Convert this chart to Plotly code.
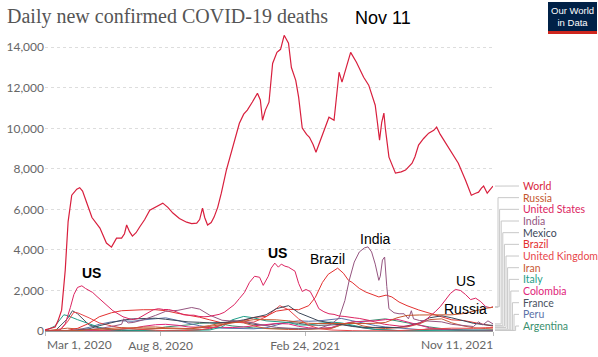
import plotly.graph_objects as go

# ---------------- data ----------------
TITLE = "Daily new confirmed COVID-19 deaths"
DATE_LABEL = "Nov 11"

x_tick_dates = ["2020-03-01", "2020-08-08", "2021-02-24", "2021-11-11"]
x_tick_labels = ["Mar 1, 2020", "Aug 8, 2020", "Feb 24, 2021", "Nov 11, 2021"]
y_tick_vals = [0, 2000, 4000, 6000, 8000, 10000, 12000, 14000]
y_tick_labels = ["0", "2,000", "4,000", "6,000", "8,000", "10,000", "12,000", "14,000"]

semi_dates = ["2020-03-01", "2020-03-15", "2020-04-01", "2020-04-15", "2020-05-01", "2020-05-15",
              "2020-06-01", "2020-06-15", "2020-07-01", "2020-07-15", "2020-08-01", "2020-08-15",
              "2020-09-01", "2020-09-15", "2020-10-01", "2020-10-15", "2020-11-01", "2020-11-15",
              "2020-12-01", "2020-12-15", "2021-01-01", "2021-01-15", "2021-02-01", "2021-02-15",
              "2021-03-01", "2021-03-15", "2021-04-01", "2021-04-15", "2021-05-01", "2021-05-15",
              "2021-06-01", "2021-06-15", "2021-07-01", "2021-07-15", "2021-08-01", "2021-08-15",
              "2021-09-01", "2021-09-15", "2021-10-01", "2021-10-15", "2021-11-01", "2021-11-11"]

world_dates = ["2020-03-01", "2020-03-15", "2020-03-19", "2020-03-24", "2020-03-29", "2020-04-02",
               "2020-04-07", "2020-04-14", "2020-04-18", "2020-04-22", "2020-04-28", "2020-05-05",
               "2020-05-16", "2020-05-25", "2020-06-01", "2020-06-04", "2020-06-08", "2020-06-15",
               "2020-06-19", "2020-06-22", "2020-06-26", "2020-06-30", "2020-07-05", "2020-07-10",
               "2020-07-17", "2020-07-24", "2020-07-31", "2020-08-06", "2020-08-11", "2020-08-18",
               "2020-08-25", "2020-09-03", "2020-09-13", "2020-09-20", "2020-09-27", "2020-10-01",
               "2020-10-05", "2020-10-08", "2020-10-12", "2020-10-17", "2020-10-21", "2020-10-26",
               "2020-10-31", "2020-11-07", "2020-11-15", "2020-11-20", "2020-11-25", "2020-12-01",
               "2020-12-06", "2020-12-13", "2020-12-20", "2020-12-24", "2020-12-27", "2020-12-31",
               "2021-01-05", "2021-01-10", "2021-01-16", "2021-01-21", "2021-01-26", "2021-02-01",
               "2021-02-05", "2021-02-11", "2021-02-15", "2021-02-20", "2021-02-26", "2021-03-02",
               "2021-03-07", "2021-03-11", "2021-03-20", "2021-03-29", "2021-04-05", "2021-04-12",
               "2021-04-16", "2021-04-22", "2021-04-28", "2021-05-06", "2021-05-16", "2021-05-23",
               "2021-06-01", "2021-06-04", "2021-06-07", "2021-06-10", "2021-06-13", "2021-06-15",
               "2021-06-20", "2021-06-29", "2021-07-07", "2021-07-13", "2021-07-22", "2021-07-26",
               "2021-07-31", "2021-08-07", "2021-08-14", "2021-08-21", "2021-08-25", "2021-08-30",
               "2021-09-04", "2021-09-13", "2021-09-19", "2021-09-24", "2021-10-04", "2021-10-12",
               "2021-10-18", "2021-10-22", "2021-10-26", "2021-10-29", "2021-11-03", "2021-11-07",
               "2021-11-11"]
world_values = [50, 200, 500, 1030, 3000, 5400, 6700, 7000, 7070, 6900, 6300, 5600,
                5080, 4340, 4140, 4350, 4580, 4580, 4800, 5230, 4900, 4680, 4850, 5130,
                5500, 5960, 6100, 6250, 6310, 6100, 5820, 5550, 5370, 5300, 5320, 5500,
                6060, 5600, 5230, 5350, 5620, 6100, 6800, 7940, 8920, 9600, 10250, 10700,
                10900, 11300, 11730, 11400, 10400, 10900, 11290, 13200, 13750, 13900, 14590, 14200,
                13000, 12370, 11540, 10010, 9700, 9560, 9200, 8820, 9660, 10550, 10400, 12770,
                12280, 13000, 13750, 13260, 12520, 12130, 11140, 10300, 9420, 10300, 10750, 10000,
                8580, 7790, 7850, 7940, 8280, 8600, 9170, 9500, 9760, 9900, 10060, 9700,
                9420, 8920, 8600, 8280, 7440, 6700, 6800, 6850, 7050, 7150, 6800, 6950,
                7150]

us_dates = ["2020-03-01", "2020-03-15", "2020-03-22", "2020-03-29", "2020-04-05", "2020-04-10",
            "2020-04-15", "2020-04-21", "2020-04-26", "2020-05-01", "2020-05-06", "2020-05-12",
            "2020-05-20", "2020-05-27", "2020-06-03", "2020-06-10", "2020-06-17", "2020-06-24",
            "2020-07-01", "2020-07-08", "2020-07-15", "2020-07-22", "2020-07-29", "2020-08-05",
            "2020-08-12", "2020-08-19", "2020-08-26", "2020-09-02", "2020-09-09", "2020-09-16",
            "2020-09-23", "2020-09-30", "2020-10-07", "2020-10-14", "2020-10-21", "2020-10-28",
            "2020-11-04", "2020-11-11", "2020-11-18", "2020-11-25", "2020-12-02", "2020-12-09",
            "2020-12-16", "2020-12-23", "2020-12-28", "2021-01-04", "2021-01-08", "2021-01-13",
            "2021-01-18", "2021-01-22", "2021-01-27", "2021-02-01", "2021-02-05", "2021-02-10",
            "2021-02-15", "2021-02-20", "2021-02-25", "2021-03-03", "2021-03-09", "2021-03-15",
            "2021-03-22", "2021-03-29", "2021-04-05", "2021-04-12", "2021-04-19", "2021-04-26",
            "2021-05-03", "2021-05-10", "2021-05-17", "2021-05-24", "2021-05-31", "2021-06-07",
            "2021-06-14", "2021-06-21", "2021-06-28", "2021-07-05", "2021-07-12", "2021-07-19",
            "2021-07-26", "2021-08-02", "2021-08-09", "2021-08-16", "2021-08-23", "2021-08-30",
            "2021-09-06", "2021-09-13", "2021-09-20", "2021-09-27", "2021-10-04", "2021-10-11",
            "2021-10-18", "2021-10-25", "2021-11-01", "2021-11-07", "2021-11-11"]
us_values = [0, 10, 60, 350, 1150, 1800, 2150, 2230, 2100, 2000, 1900, 1700,
             1450, 1250, 1000, 850, 700, 620, 560, 620, 750, 880, 1050, 1100,
             1060, 1060, 1000, 900, 800, 780, 780, 720, 700, 720, 780, 820,
             920, 1100, 1300, 1600, 1900, 2400, 2700, 2650, 2250, 2700, 3100, 3350,
             3150, 3300, 3200, 3150, 3050, 2950, 2350, 1950, 2050, 1950, 1550, 1100,
             950, 850, 820, 740, 720, 700, 650, 620, 580, 520, 450, 380,
             330, 300, 260, 240, 230, 260, 330, 400, 520, 720, 950, 1200,
             1550, 1850, 2050, 2000, 1800, 1550, 1620, 1450, 1200, 1150, 1200]

brazil_dates = ["2020-03-01", "2020-03-22", "2020-04-01", "2020-04-15", "2020-05-01", "2020-05-15",
                "2020-06-01", "2020-06-15", "2020-07-01", "2020-07-15", "2020-08-01", "2020-08-15",
                "2020-09-01", "2020-09-15", "2020-10-01", "2020-10-15", "2020-11-01", "2020-11-15",
                "2020-12-01", "2020-12-15", "2021-01-01", "2021-01-15", "2021-02-01", "2021-02-15",
                "2021-03-01", "2021-03-10", "2021-03-20", "2021-03-28", "2021-04-05", "2021-04-10",
                "2021-04-18", "2021-04-25", "2021-04-30", "2021-05-10", "2021-05-19", "2021-05-28",
                "2021-06-06", "2021-06-16", "2021-06-24", "2021-07-04", "2021-07-15", "2021-07-31",
                "2021-08-15", "2021-08-24", "2021-09-01", "2021-09-15", "2021-10-01", "2021-10-15",
                "2021-11-01", "2021-11-11"]
brazil_values = [0, 5, 30, 130, 380, 700, 900, 1000, 1030, 1050, 1050, 1000,
                 870, 780, 680, 550, 400, 420, 520, 670, 720, 980, 1070, 1050,
                 1250, 1650, 2400, 2800, 3000, 3100, 2850, 2500, 2400, 2100, 1920, 1800,
                 1680, 1770, 1680, 1430, 1250, 1040, 880, 790, 680, 550, 520, 420,
                 300, 240]

india_dates = ["2020-03-01", "2020-04-01", "2020-04-15", "2020-05-01", "2020-05-15", "2020-06-01",
               "2020-06-15", "2020-06-18", "2020-06-24", "2020-07-01", "2020-07-15", "2020-08-01",
               "2020-08-15", "2020-09-01", "2020-09-20", "2020-10-01", "2020-10-15", "2020-11-01",
               "2020-11-15", "2020-12-01", "2020-12-15", "2021-01-01", "2021-01-15", "2021-02-01",
               "2021-02-15", "2021-03-01", "2021-03-15", "2021-04-01", "2021-04-12", "2021-04-20",
               "2021-04-26", "2021-05-03", "2021-05-10", "2021-05-17", "2021-05-22", "2021-05-27",
               "2021-06-01", "2021-06-06", "2021-06-08", "2021-06-11", "2021-06-14", "2021-06-17",
               "2021-06-20", "2021-06-27", "2021-07-04", "2021-07-11", "2021-07-17", "2021-07-21",
               "2021-07-24", "2021-08-01", "2021-08-15", "2021-09-01", "2021-09-15", "2021-10-01",
               "2021-10-15", "2021-10-22", "2021-10-28", "2021-11-04", "2021-11-11"]
india_values = [0, 5, 35, 70, 120, 220, 330, 600, 400, 420, 550, 770,
                970, 1020, 1160, 1080, 780, 530, 490, 490, 380, 260, 180, 130,
                100, 110, 130, 330, 650, 1500, 2500, 3400, 3900, 4100, 4150, 3900,
                3300, 2500, 2700, 3500, 3650, 2200, 1100, 900, 850, 850, 600, 1000,
                600, 520, 480, 450, 330, 280, 220, 450, 300, 500, 350]

russia_values = [0, 0, 2, 15, 60, 100, 150, 165, 150, 140, 110, 100, 100, 100, 150, 230, 330, 400,
                 490, 560, 560, 550, 500, 430, 380, 370, 360, 380, 370, 370, 380, 420, 650, 770,
                 790, 790, 790, 800, 860, 980, 1120, 1170]
mexico_values = [0, 0, 2, 40, 110, 260, 420, 530, 600, 620, 630, 580, 500, 450, 430, 400, 420, 450,
                 550, 650, 800, 1100, 1250, 900, 700, 500, 400, 300, 220, 180, 180, 150, 170, 250,
                 400, 650, 750, 650, 500, 380, 300, 280]
iran_values = [5, 80, 140, 100, 70, 50, 60, 90, 150, 200, 200, 160, 120, 120, 200, 270, 400, 460,
               400, 250, 120, 90, 75, 75, 80, 90, 120, 300, 420, 250, 150, 120, 150, 200, 350, 560,
               600, 400, 250, 160, 120, 100]
colombia_values = [0, 0, 1, 8, 12, 20, 40, 80, 140, 230, 310, 330, 280, 200, 170, 170, 180, 170,
                   200, 250, 290, 370, 350, 230, 160, 130, 170, 340, 450, 470, 500, 560, 580, 450,
                   280, 160, 80, 45, 35, 30, 30, 30]
peru_values = [0, 0, 10, 60, 180, 330, 450, 500, 480, 550, 620, 650, 520, 380, 260, 180, 140, 120,
               100, 110, 160, 280, 450, 500, 480, 500, 580, 620, 500, 380, 270, 200, 150, 100,
               70, 60, 50, 40, 35, 30, 30, 30]
argentina_values = [0, 0, 2, 3, 5, 8, 10, 20, 40, 80, 120, 200, 250, 300, 380, 400, 340, 250,
                    200, 150, 130, 140, 150, 130, 100, 110, 150, 300, 450, 480, 550, 600, 500, 400,
                    300, 200, 120, 70, 30, 20, 20, 20]

uk_dates = ["2020-03-01", "2020-03-15", "2020-03-22", "2020-04-01", "2020-04-10", "2020-04-15",
            "2020-05-01", "2020-05-15", "2020-06-01", "2020-06-15", "2020-07-01", "2020-07-15",
            "2020-08-01", "2020-08-15", "2020-09-01", "2020-09-15", "2020-10-01", "2020-10-15",
            "2020-11-01", "2020-11-15", "2020-12-01", "2020-12-15", "2021-01-01", "2021-01-20",
            "2021-02-01", "2021-02-15", "2021-03-01", "2021-03-15", "2021-04-01", "2021-04-15",
            "2021-05-01", "2021-05-15", "2021-06-01", "2021-06-15", "2021-07-01", "2021-07-15",
            "2021-08-01", "2021-08-15", "2021-09-01", "2021-09-15", "2021-10-01", "2021-10-15",
            "2021-11-01", "2021-11-11"]
uk_values = [0, 5, 50, 450, 930, 900, 650, 400, 250, 150, 100, 70, 30, 15, 10, 20, 60, 130,
             280, 430, 420, 440, 700, 1250, 1050, 600, 280, 120, 50, 25, 15, 10, 8, 12, 15, 40,
             80, 95, 120, 140, 120, 130, 165, 170]

italy_dates = ["2020-03-01", "2020-03-15", "2020-03-27", "2020-04-01", "2020-04-15", "2020-05-01",
               "2020-05-15", "2020-06-01", "2020-06-15", "2020-07-01", "2020-07-15", "2020-08-01",
               "2020-08-15", "2020-09-01", "2020-09-15", "2020-10-01", "2020-10-15", "2020-11-01",
               "2020-11-15", "2020-12-01", "2020-12-15", "2021-01-01", "2021-01-15", "2021-02-01",
               "2021-02-15", "2021-03-01", "2021-03-15", "2021-04-01", "2021-04-15", "2021-05-01",
               "2021-05-15", "2021-06-01", "2021-06-15", "2021-07-01", "2021-07-15", "2021-08-01",
               "2021-08-15", "2021-09-01", "2021-09-15", "2021-10-01", "2021-10-15", "2021-11-01",
               "2021-11-11"]
italy_values = [2, 250, 800, 760, 560, 350, 180, 60, 40, 18, 12, 8, 5, 8, 12, 20, 50, 200, 550,
                720, 650, 500, 480, 420, 300, 290, 380, 440, 400, 270, 180, 80, 40, 25, 15, 25,
                45, 55, 55, 45, 40, 40, 50]

france_dates = ["2020-03-01", "2020-03-15", "2020-04-01", "2020-04-08", "2020-04-15", "2020-05-01",
                "2020-05-15", "2020-06-01", "2020-06-15", "2020-07-01", "2020-07-15", "2020-08-01",
                "2020-08-15", "2020-09-01", "2020-09-15", "2020-10-01", "2020-10-15", "2020-11-01",
                "2020-11-15", "2020-12-01", "2020-12-15", "2021-01-01", "2021-01-15", "2021-02-01",
                "2021-02-15", "2021-03-01", "2021-03-15", "2021-04-01", "2021-04-15", "2021-05-01",
                "2021-05-15", "2021-06-01", "2021-06-15", "2021-07-01", "2021-07-15", "2021-08-01",
                "2021-08-15", "2021-09-01", "2021-09-15", "2021-10-01", "2021-10-15", "2021-11-01",
                "2021-11-11"]
france_values = [0, 10, 600, 1000, 850, 300, 150, 50, 30, 15, 10, 10, 12, 20, 45, 60, 100, 300,
                 520, 400, 330, 280, 360, 420, 380, 300, 280, 300, 330, 250, 150, 80, 40, 25, 20,
                 40, 110, 100, 60, 35, 30, 30, 30]

# legend order (top to bottom) and colours
legend_names = ["World", "Russia", "United States", "India", "Mexico", "Brazil", "United Kingdom",
                "Iran", "Italy", "Colombia", "France", "Peru", "Argentina"]
colors = {"World": "#d81f3d", "Russia": "#c4562c", "United States": "#dc2461", "India": "#955580",
          "Mexico": "#3c4859", "Brazil": "#e3302f", "United Kingdom": "#e8474b", "Iran": "#c95a36",
          "Italy": "#1f9e89", "Colombia": "#e0257a", "France": "#4b535f", "Peru": "#5a72a8",
          "Argentina": "#3a8f6e"}

series = {
    "World": (world_dates, world_values),
    "Russia": (semi_dates, russia_values),
    "United States": (us_dates, us_values),
    "India": (india_dates, india_values),
    "Mexico": (semi_dates, mexico_values),
    "Brazil": (brazil_dates, brazil_values),
    "United Kingdom": (uk_dates, uk_values),
    "Iran": (semi_dates, iran_values),
    "Italy": (italy_dates, italy_values),
    "Colombia": (semi_dates, colombia_values),
    "France": (france_dates, france_values),
    "Peru": (semi_dates, peru_values),
    "Argentina": (semi_dates, argentina_values),
}

# in-chart callouts
callout_texts = ["<b>US</b>", "<b>US</b>", "Brazil", "India", "US", "Russia"]
callout_dates = ["2020-05-04", "2021-01-17", "2021-03-27", "2021-06-02", "2021-10-04", "2021-10-04"]
callout_values = [2860, 3850, 3550, 4540, 2470, 1085]

# ---------------- layout geometry ----------------
W, H = 598, 357
ML, MR, MT, MB = 45, 105, 27, 26
PW, PH = W - ML - MR, H - MT - MB
YMAX = 15000


def px_to_paper_x(px):
    return (px - ML) / PW


def px_to_paper_y(py):
    return (H - MB - py) / PH


def py_to_value(py):
    return (H - MB - py) / PH * YMAX


fig = go.Figure()

for name in reversed(legend_names):
    d, v = series[name]
    fig.add_trace(go.Scatter(
        x=d, y=v, mode="lines", name=name,
        line=dict(color=colors[name], width=1.2 if name == "World" else 1.0),
        hoverinfo="skip", showlegend=False))

annotations = []
shapes = []

# title
annotations.append(dict(text=TITLE, x=px_to_paper_x(5), y=px_to_paper_y(17), xref="paper", yref="paper",
                        xanchor="left", yanchor="middle", showarrow=False,
                        font=dict(family="Liberation Serif, DejaVu Serif, serif", size=20, color="#555555")))
annotations.append(dict(text=DATE_LABEL, x=px_to_paper_x(383), y=px_to_paper_y(18), xref="paper", yref="paper",
                        xanchor="center", yanchor="middle", showarrow=False,
                        font=dict(family="Liberation Sans, Arial, sans-serif", size=18, color="#000000")))

# logo
shapes.append(dict(type="rect", xref="paper", yref="paper",
                   x0=px_to_paper_x(548), x1=px_to_paper_x(597), y0=px_to_paper_y(34), y1=px_to_paper_y(2),
                   fillcolor="#002147", line=dict(width=0), layer="above"))
shapes.append(dict(type="rect", xref="paper", yref="paper",
                   x0=px_to_paper_x(548), x1=px_to_paper_x(597), y0=px_to_paper_y(34), y1=px_to_paper_y(31),
                   fillcolor="#ce261e", line=dict(width=0), layer="above"))
annotations.append(dict(text="Our World<br>in Data", x=px_to_paper_x(572.5), y=px_to_paper_y(16),
                        xref="paper", yref="paper", xanchor="center", yanchor="middle", showarrow=False,
                        font=dict(family="Liberation Sans, Arial, sans-serif", size=9.5, color="#ffffff")))

# x-axis edge labels (left/right aligned like the original)
annotations.append(dict(text=x_tick_labels[0], x=0, y=px_to_paper_y(344), xref="paper", yref="paper",
                        xanchor="left", yanchor="middle", showarrow=False,
                        font=dict(family="Lato", size=12, color="#666666")))
annotations.append(dict(text=x_tick_labels[-1], x=px_to_paper_x(495), y=px_to_paper_y(344), xref="paper",
                        yref="paper", xanchor="right", yanchor="middle", showarrow=False,
                        font=dict(family="Lato", size=12, color="#666666")))

# callouts
for t, d, v in zip(callout_texts, callout_dates, callout_values):
    annotations.append(dict(text=t, x=d, y=v, xref="x", yref="y", showarrow=False,
                            xanchor="center", yanchor="middle",
                            font=dict(family="Liberation Sans, Arial, sans-serif", size=14, color="#000000")))

# end labels with connector lines
label_top_py = 186
label_step = 11.67
x_end = px_to_paper_x(495)
x_lab_line = px_to_paper_x(519)
x_text = px_to_paper_x(521)
for i, name in enumerate(legend_names):
    y_lab = py_to_value(label_top_py + i * label_step)
    y_end = series[name][1][-1]
    if i == 0:
        path = f"M {x_end},{y_end} L {x_lab_line},{y_lab}"
    else:
        xv = px_to_paper_x(498 + (i - 1) * 1.6)
        path = (f"M {x_end},{y_end} L {xv},{y_end} L {xv},{y_lab} L {x_lab_line},{y_lab}")
    shapes.append(dict(type="path", path=path, xref="paper", yref="y",
                       line=dict(color="#c8c8c8", width=1), layer="below"))
    annotations.append(dict(text=name, x=x_text, y=y_lab, xref="paper", yref="y",
                            xanchor="left", yanchor="middle", showarrow=False,
                            font=dict(family="Lato", size=10.5, color=colors[name])))

fig.update_layout(
    width=W, height=H,
    margin=dict(l=ML, r=MR, t=MT, b=MB, pad=0, autoexpand=False),
    paper_bgcolor="white", plot_bgcolor="white",
    showlegend=False,
    hovermode=False,
    annotations=annotations,
    shapes=shapes,
    xaxis=dict(type="date", range=[x_tick_dates[0], x_tick_dates[-1]], automargin=False,
               tickvals=x_tick_dates, ticktext=[""] + x_tick_labels[1:-1] + [""],
               showgrid=False, showline=True, linecolor="#9a9a9a", linewidth=1,
               ticks="outside", ticklen=4, tickcolor="#bbbbbb",
               tickfont=dict(family="Lato", size=12, color="#666666"), zeroline=False),
    yaxis=dict(range=[0, YMAX], tickvals=y_tick_vals, ticktext=y_tick_labels, automargin=False,
               showgrid=True, gridcolor="#dddddd", griddash="dot", gridwidth=1,
               zeroline=False, showline=False, ticks="",
               tickfont=dict(family="Lato", size=12, color="#666666")),
)

# remove the browser's default page margin so the figure fills the 598x357 window
fig.write_html("out.html", config={"displayModeBar": False, "staticPlot": True},
               post_script="document.body.style.margin='0px';document.body.style.overflow='hidden';")
